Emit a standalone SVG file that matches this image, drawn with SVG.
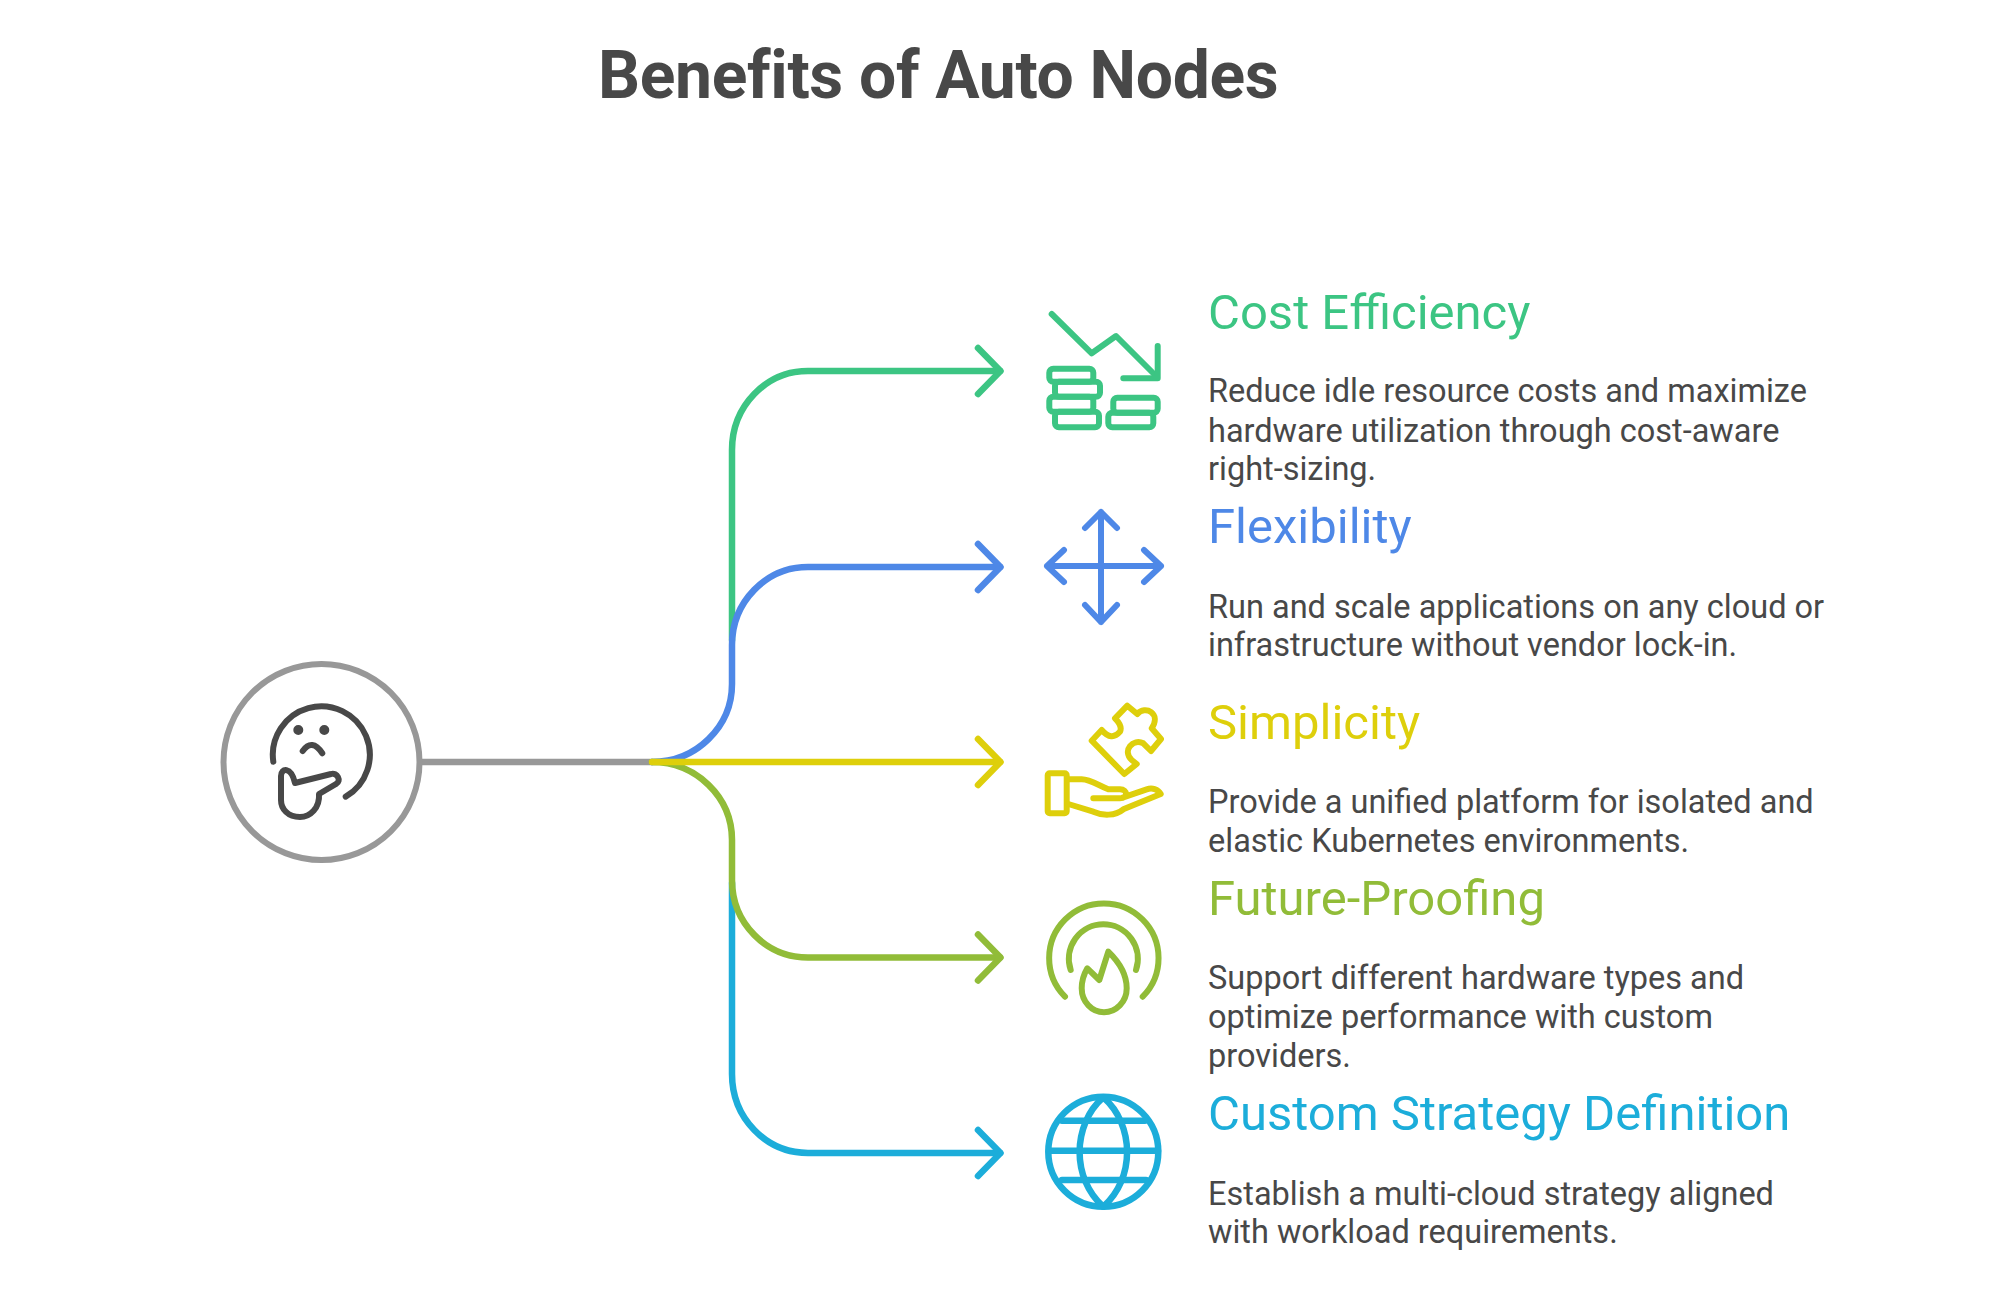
<svg xmlns="http://www.w3.org/2000/svg" width="1999" height="1301" viewBox="0 0 1999 1301">
<style>
text{font-family:Roboto,"Liberation Sans",sans-serif}
.title{font-size:66px;font-weight:700;fill:#484848;letter-spacing:-.35px}
.h{font-size:49px;font-weight:400}
.b{font-size:32.5px;fill:#484848}
.ln{fill:none;stroke-width:6.5;stroke-linecap:round;stroke-linejoin:round}
.ic{fill:none;stroke-width:6;stroke-linecap:round;stroke-linejoin:round}
.g{stroke:#3CC583}.bl{stroke:#4E88E7}.y{stroke:#DECF0B}.l{stroke:#91BC38}.c{stroke:#1CADDA}
</style>
<defs><path id="head" d="M978,-23L1000.5,0L978,23"/></defs>
<rect width="1999" height="1301" fill="#fff"/>
<text class="title" x="598" y="98">Benefits of Auto Nodes</text>
<g id="connectors">
<path class="ln" stroke="#989898" d="M420,762H652"/>
<path class="ln g" d="M732,640V450C732,406 766,371 808,371H1000"/>
<use href="#head" y="371" class="ln g"/>
<path class="ln bl" d="M652,762C696,762 732,727 732,684V645C732,602 766,567 808,567H1000"/>
<use href="#head" y="567" class="ln bl"/>
<path class="ln c" d="M732,883V1074C732,1118 766,1153 808,1153H1000"/>
<use href="#head" y="1153" class="ln c"/>
<path class="ln l" d="M652,762C696,762 732,797 732,840V880C732,923 766,957.5 808,957.5H1000"/>
<use href="#head" y="957.5" class="ln l"/>
<path class="ln y" d="M652,762H1000"/>
<use href="#head" y="762" class="ln y"/>
</g>
<g id="center">
<circle cx="321.5" cy="762" r="98" fill="#fff" stroke="#989898" stroke-width="6"/>
<g class="ic" stroke="#484848">
<path d="M273.3,761.7A48.5,48.5 0 1 1 345.7,796.7"/>
<path d="M302.7,751Q312,738 322.3,753.3"/>
<path d="M295,783L331,774C337,772 342,781 336,784L319,794C320,808 310,817 300,817C288,817 281,809 281,800V776C281,768 291,766 295,783Z"/>
<circle cx="298.3" cy="730" r="2" fill="#484848"/><circle cx="324.3" cy="730" r="2" fill="#484848"/>
</g>
</g>
<g id="cost">
<g class="ic g">
<path d="M1051.7,314L1091.7,353.3L1116,336L1156,376"/><path d="M1157.7,346V378.3H1123.3"/>
<rect x="1049.3" y="368.7" width="44" height="13" rx="4"/><rect x="1055" y="381.7" width="45" height="15" rx="4"/>
<rect x="1049.3" y="396.7" width="44" height="15" rx="4"/><rect x="1055" y="411.7" width="44" height="15.6" rx="4"/>
<rect x="1113.3" y="397.7" width="44.4" height="15" rx="4"/><rect x="1108.3" y="412.7" width="45" height="14.6" rx="4"/>
</g>
<text class="h" x="1208" y="329" fill="#3CC583">Cost Efficiency</text>
<text class="b" x="1208" y="401.5">Reduce idle resource costs and maximize</text>
<text class="b" x="1208" y="441.5">hardware utilization through cost-aware</text>
<text class="b" x="1208" y="480">right-sizing.</text>
</g>
<g id="flexibility">
<g class="ic bl">
<path d="M1047,566H1161M1101,512V622M1064,550L1047,566L1064,582M1144,550L1161,566L1144,582M1085,528L1101,512L1117,528M1085,605L1101,622L1117,605"/>
</g>
<text class="h" x="1208" y="543" fill="#4E88E7">Flexibility</text>
<text class="b" x="1208" y="617.5">Run and scale applications on any cloud or</text>
<text class="b" x="1208" y="656">infrastructure without vendor lock-in.</text>
</g>
<g id="simplicity">
<g class="ic y">
<rect x="1047.7" y="773.3" width="19" height="40" rx="2"/>
<path d="M1068.3,779.3H1081.7C1090,779.3 1098,785 1108.3,789.3H1120C1128,789.3 1128,798.3 1120,798.3H1093.3M1123.3,797.3L1146.7,789.3C1152,787.5 1158,789 1160.7,794L1123.3,809.3C1115,816 1103,816 1093.3,811.7L1068.3,804"/>
<path d="M1124.3,774L1091.7,740.7L1101.7,730Q1111.7,741.7 1120,731.7Q1122.7,726 1115,718.3L1127.3,705.7L1137.3,714C1145,705 1161.7,713.3 1151.7,728.3L1161,739L1151,751L1143.3,743.3C1133.3,738.3 1121.7,750 1131.7,760L1136.7,764Z"/>
</g>
<text class="h" x="1208" y="739" fill="#DECF0B">Simplicity</text>
<text class="b" x="1208" y="812.5">Provide a unified platform for isolated and</text>
<text class="b" x="1208" y="851.5">elastic Kubernetes environments.</text>
</g>
<g id="future">
<g class="ic l">
<path d="M1065,996.7A54.7,54.7 0 1 1 1142.7,996.7"/>
<path d="M1070.7,970A34.5,34.5 0 1 1 1136,970"/>
<path d="M1108.3,951.7C1120,963 1126.7,976 1126.7,988.3C1126.7,1002 1116,1012.3 1104,1012.3C1092,1012.3 1081.7,1002 1081.7,988.3C1081.7,981 1084,974 1087.3,968.3L1099.3,980Z"/>
</g>
<text class="h" x="1208" y="915" fill="#91BC38">Future-Proofing</text>
<text class="b" x="1208" y="988.5">Support different hardware types and</text>
<text class="b" x="1208" y="1027.5">optimize performance with custom</text>
<text class="b" x="1208" y="1066.5">providers.</text>
</g>
<g id="custom">
<g class="ic c" style="stroke-width:6.5">
<circle cx="1103.3" cy="1151.7" r="55"/>
<path d="M1103.3,1097.3C1071.7,1125 1071.7,1179 1103.3,1206.7C1135,1179 1135,1125 1103.3,1097.3Z"/>
<path d="M1062,1120.7H1145M1049,1150.7H1158M1062,1180H1146"/>
</g>
<text class="h" x="1208" y="1130" fill="#1CADDA">Custom Strategy Definition</text>
<text class="b" x="1208" y="1204.5">Establish a multi-cloud strategy aligned</text>
<text class="b" x="1208" y="1243">with workload requirements.</text>
</g>
</svg>
